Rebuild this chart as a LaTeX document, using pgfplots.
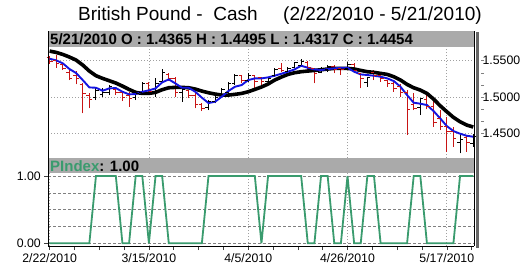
\documentclass[border=0pt]{standalone}
\usepackage{pgfplots}
\pgfplotsset{compat=1.18}
\usepackage{pgfplotstable}
\usepackage{fontspec}
\setmainfont{Liberation Sans}
\definecolor{barred}{RGB}{200,20,20}
\definecolor{mablue}{RGB}{20,20,225}
\definecolor{pgreen}{RGB}{58,155,110}
\definecolor{hdrgray}{RGB}{170,170,170}
\definecolor{gridgray}{RGB}{160,160,160}
\pgfdeclareplotmark{otick}{\pgfpathmoveto{\pgfqpoint{-3pt}{0pt}}\pgfpathlineto{\pgfqpoint{0pt}{0pt}}\pgfusepathqstroke}
\pgfdeclareplotmark{ctick}{\pgfpathmoveto{\pgfqpoint{0pt}{0pt}}\pgfpathlineto{\pgfqpoint{3pt}{0pt}}\pgfusepathqstroke}

\pgfplotstableread{
d O H L C
7 1.4990 1.5119 1.4959 1.5090
8 1.5030 1.5119 1.5005 1.5060
9 1.5060 1.5165 1.5028 1.5140
13 1.4990 1.5073 1.4959 1.5050
14 1.5060 1.5202 1.5051 1.5190
16 1.5060 1.5257 1.5005 1.5180
17 1.5210 1.5381 1.5202 1.5340
20 1.5060 1.5142 1.4936 1.5110
24 1.4850 1.4959 1.4821 1.4940
25 1.4940 1.5028 1.4913 1.5000
26 1.5030 1.5119 1.5028 1.5100
27 1.5060 1.5211 1.5028 1.5180
28 1.5190 1.5312 1.5165 1.5290
30 1.5230 1.5326 1.5211 1.5300
33 1.5220 1.5280 1.5211 1.5260
34 1.5290 1.5395 1.5280 1.5380
36 1.5350 1.5418 1.5326 1.5400
37 1.5410 1.5487 1.5395 1.5470
38 1.5440 1.5519 1.5418 1.5490
41 1.5340 1.5418 1.5326 1.5390
42 1.5380 1.5441 1.5349 1.5420
45 1.5400 1.5487 1.5395 1.5450
48 1.5200 1.5280 1.5142 1.5270
56 1.4850 1.4990 1.4750 1.4980
62 1.4380 1.4500 1.4224 1.4420
64 1.4365 1.4495 1.4317 1.4454
}\upbars

\pgfplotstableread{
d O H L C
0 1.5540 1.5560 1.5460 1.5490
1 1.5500 1.5578 1.5404 1.5460
2 1.5450 1.5464 1.5372 1.5400
3 1.5340 1.5372 1.5234 1.5257
4 1.5300 1.5358 1.5174 1.5250
5 1.5174 1.5188 1.4775 1.5050
6 1.5020 1.5051 1.4844 1.4960
10 1.5110 1.5128 1.5028 1.5060
11 1.5060 1.5073 1.4945 1.4990
12 1.5020 1.5064 1.4867 1.4980
15 1.5180 1.5211 1.5028 1.5070
18 1.5310 1.5326 1.5220 1.5250
19 1.5260 1.5280 1.5005 1.5060
21 1.5090 1.5096 1.4982 1.5020
22 1.5020 1.5073 1.4844 1.4900
23 1.4900 1.4913 1.4807 1.4840
29 1.5290 1.5303 1.5188 1.5230
31 1.5290 1.5303 1.5119 1.5210
32 1.5270 1.5280 1.5142 1.5220
35 1.5400 1.5473 1.5349 1.5360
39 1.5480 1.5500 1.5372 1.5410
40 1.5390 1.5395 1.5188 1.5330
43 1.5420 1.5441 1.5326 1.5380
44 1.5400 1.5418 1.5303 1.5380
46 1.5450 1.5473 1.5326 1.5360
47 1.5320 1.5326 1.5119 1.5250
49 1.5340 1.5372 1.5234 1.5290
50 1.5290 1.5303 1.5211 1.5250
51 1.5230 1.5234 1.5142 1.5180
52 1.5180 1.5211 1.5073 1.5120
53 1.5150 1.5180 1.5000 1.5060
54 1.5060 1.5100 1.4477 1.4830
55 1.4900 1.5051 1.4821 1.4840
57 1.4960 1.5040 1.4830 1.4870
58 1.4870 1.4959 1.4591 1.4650
59 1.4700 1.4821 1.4545 1.4590
60 1.4600 1.4729 1.4247 1.4530
61 1.4530 1.4591 1.4316 1.4430
63 1.4440 1.4477 1.4247 1.4370
}\downbars

\pgfplotstableread{
d v
0 1.5528
1 1.5505
2 1.5464
3 1.5386
4 1.5331
5 1.5234
6 1.5133
7 1.5128
8 1.5087
9 1.5119
10 1.5124
11 1.5073
12 1.5037
13 1.5041
14 1.5073
15 1.5092
16 1.5119
17 1.5202
18 1.5243
19 1.5188
20 1.5128
21 1.5128
22 1.5073
23 1.4991
24 1.4917
25 1.4936
26 1.5005
27 1.5082
28 1.5142
29 1.5165
30 1.5234
31 1.5257
32 1.5257
33 1.5271
34 1.5294
35 1.5321
36 1.5349
37 1.5381
38 1.5431
39 1.5404
40 1.5381
41 1.5372
42 1.5386
43 1.5395
44 1.5404
45 1.5404
46 1.5349
47 1.5312
48 1.5303
49 1.5294
50 1.5280
51 1.5257
52 1.5220
53 1.5142
54 1.5027
55 1.4922
56 1.4908
57 1.4890
58 1.4807
59 1.4706
60 1.4600
61 1.4531
62 1.4495
63 1.4467
64 1.4453
}\bluema

\pgfplotstableread{
d v
0 1.5633
1 1.5615
2 1.5587
3 1.5551
4 1.5509
5 1.5441
6 1.5358
7 1.5294
8 1.5257
9 1.5225
10 1.5193
11 1.5151
12 1.5105
13 1.5064
14 1.5050
15 1.5050
16 1.5064
17 1.5101
18 1.5128
19 1.5133
20 1.5133
21 1.5128
22 1.5110
23 1.5082
24 1.5059
25 1.5041
26 1.5027
27 1.5027
28 1.5037
29 1.5050
30 1.5073
31 1.5105
32 1.5138
33 1.5179
34 1.5234
35 1.5275
36 1.5312
37 1.5335
38 1.5349
39 1.5358
40 1.5367
41 1.5376
42 1.5386
43 1.5395
44 1.5395
45 1.5395
46 1.5386
47 1.5367
48 1.5349
49 1.5340
50 1.5326
51 1.5312
52 1.5280
53 1.5234
54 1.5174
55 1.5128
56 1.5096
57 1.5050
58 1.4972
59 1.4880
60 1.4798
61 1.4720
62 1.4660
63 1.4614
64 1.4587
}\blackma

\pgfplotstableread{
d v
0 0
1 0
2 0
3 0
4 0
5 0
6 0
7 1
8 1
9 1
10 1
11 0
12 0
13 1
14 1
15 0
16 1
17 1
18 0
19 0
20 0
21 0
22 0
23 0
24 1
25 1
26 1
27 1
28 1
29 1
30 1
31 1
32 0
33 1
34 1
35 1
36 1
37 1
38 1
39 0
40 0
41 1
42 1
43 0
44 0
45 1
46 0
47 0
48 1
49 1
50 0
51 0
52 0
53 0
54 0
55 1
56 1
57 0
58 0
59 0
60 0
61 0
62 1
63 1
64 1
}\pindex

\begin{document}
\begin{tikzpicture}
\useasboundingbox (0pt,0pt) rectangle (527pt,266pt);
% title
\node[anchor=base west, inner sep=0, font=\fontsize{19}{22}\selectfont] at (78pt,245.5pt) {British Pound -\ \ Cash};
\node[anchor=base west, inner sep=0, font=\fontsize{19}{22}\selectfont] at (283pt,245.5pt) {(2/22/2010 - 5/21/2010)};

% top panel
\begin{axis}[
  at={(48.3pt,108pt)}, anchor=south west, scale only axis,
  width=426.3pt, height=127pt,
  xmin=-0.2, xmax=64.2, ymin=1.416, ymax=1.591,
  axis line style={draw=none},
  xtick={15,30,45,60}, xticklabels={}, x tick style={draw=none},
  xmajorgrids, ymajorgrids,
  grid style={gridgray, line width=0.7pt, dash pattern=on 1pt off 2pt},
  ytick={1.45,1.5,1.55}, yticklabels={1.4500,1.5000,1.5500},
  ytick pos=right, yticklabel pos=right,
  minor y tick num=2,
  tick align=outside,
  y tick style={gray, line width=0.6pt, xshift=6.5pt},
  major tick length=3pt, minor tick length=3pt,
  yticklabel style={anchor=west, xshift=1.5pt, font=\fontsize{12.3}{14}\selectfont},
  clip=true,
]
% down bars
\addplot[draw=none, mark=none, forget plot,
  error bars/.cd, y dir=plus, y explicit, error mark=none,
  error bar style={barred, line width=1pt}]
  table[x=d, y=L, y error expr=\thisrow{H}-\thisrow{L}] {\downbars};
\addplot[only marks, mark=otick, mark options={barred, line width=1pt}] table[x=d, y=O] {\downbars};
\addplot[only marks, mark=ctick, mark options={barred, line width=1pt}] table[x=d, y=C] {\downbars};
% up bars
\addplot[draw=none, mark=none, forget plot,
  error bars/.cd, y dir=plus, y explicit, error mark=none,
  error bar style={black, line width=1pt}]
  table[x=d, y=L, y error expr=\thisrow{H}-\thisrow{L}] {\upbars};
\addplot[only marks, mark=otick, mark options={black, line width=1pt}] table[x=d, y=O] {\upbars};
\addplot[only marks, mark=ctick, mark options={black, line width=1pt}] table[x=d, y=C] {\upbars};
% moving averages
\addplot[black, line width=3.6pt, mark=none] table[x=d, y=v] {\blackma};
\addplot[mablue, line width=1.9pt, mark=none] table[x=d, y=v] {\bluema};
\end{axis}

% lower panel
\begin{axis}[
  at={(48.3pt,20pt)}, anchor=south west, scale only axis,
  width=426.3pt, height=87.5pt,
  xmin=-0.2, xmax=64.2, ymin=-0.04, ymax=1.26,
  axis line style={draw=none},
  xtick={0,15,30,45,60},
  xticklabels={2/22/2010,3/15/2010,4/5/2010,4/26/2010,5/17/2010},
  minor xtick={3.75,7.5,11.25,18.75,22.5,26.25,33.75,37.5,41.25,48.75,52.5,56.25,63.75},
  xtick pos=bottom, ytick pos=left,
  ytick={0,1}, yticklabels={0.00,1.00},
  minor ytick={0.25,0.5,0.75},
  minor y tick style={draw=none},
  tick align=outside,
  major tick length=4pt, minor tick length=4pt,
  tick style={black!75, line width=0.6pt},
  xmajorgrids, ymajorgrids, yminorgrids,
  major x grid style={gridgray, line width=0.7pt, dash pattern=on 1pt off 2pt},
  major y grid style={gray, line width=0.6pt, dash pattern=on 3pt off 2pt},
  minor y grid style={gray, line width=0.6pt, dash pattern=on 3pt off 2pt},
  xticklabel style={font=\fontsize{12.3}{14}\selectfont},
  yticklabel style={font=\fontsize{12.3}{14}\selectfont},
]
\addplot[pgreen, line width=1.8pt, mark=none] table[x=d, y=v] {\pindex};
\end{axis}

% header bars
\fill[hdrgray] (49.3pt,219pt) rectangle (474.5pt,235pt);
\node[anchor=west, inner sep=0, font=\bfseries\fontsize{15}{17}\selectfont] at (50pt,227pt) {5/21/2010 O : 1.4365 H : 1.4495 L : 1.4317 C : 1.4454};
\fill[hdrgray] (49.3pt,92.7pt) rectangle (474.5pt,107.7pt);
\node[anchor=west, inner sep=0, font=\bfseries\fontsize{15}{17}\selectfont] at (50pt,100.2pt) {\textcolor{pgreen}{PIndex}: 1.00};

% borders
\draw[black, line width=1.6pt] (48.3pt,235pt) -- (48.3pt,20pt);
\draw[black, line width=1pt] (474.3pt,235pt) -- (474.3pt,20pt);
\draw[black, line width=1pt] (48.3pt,20pt) -- (474.3pt,20pt);
\fill[black!60] (476.3pt,18.5pt) rectangle (479.3pt,234pt);
\end{tikzpicture}
\end{document}
